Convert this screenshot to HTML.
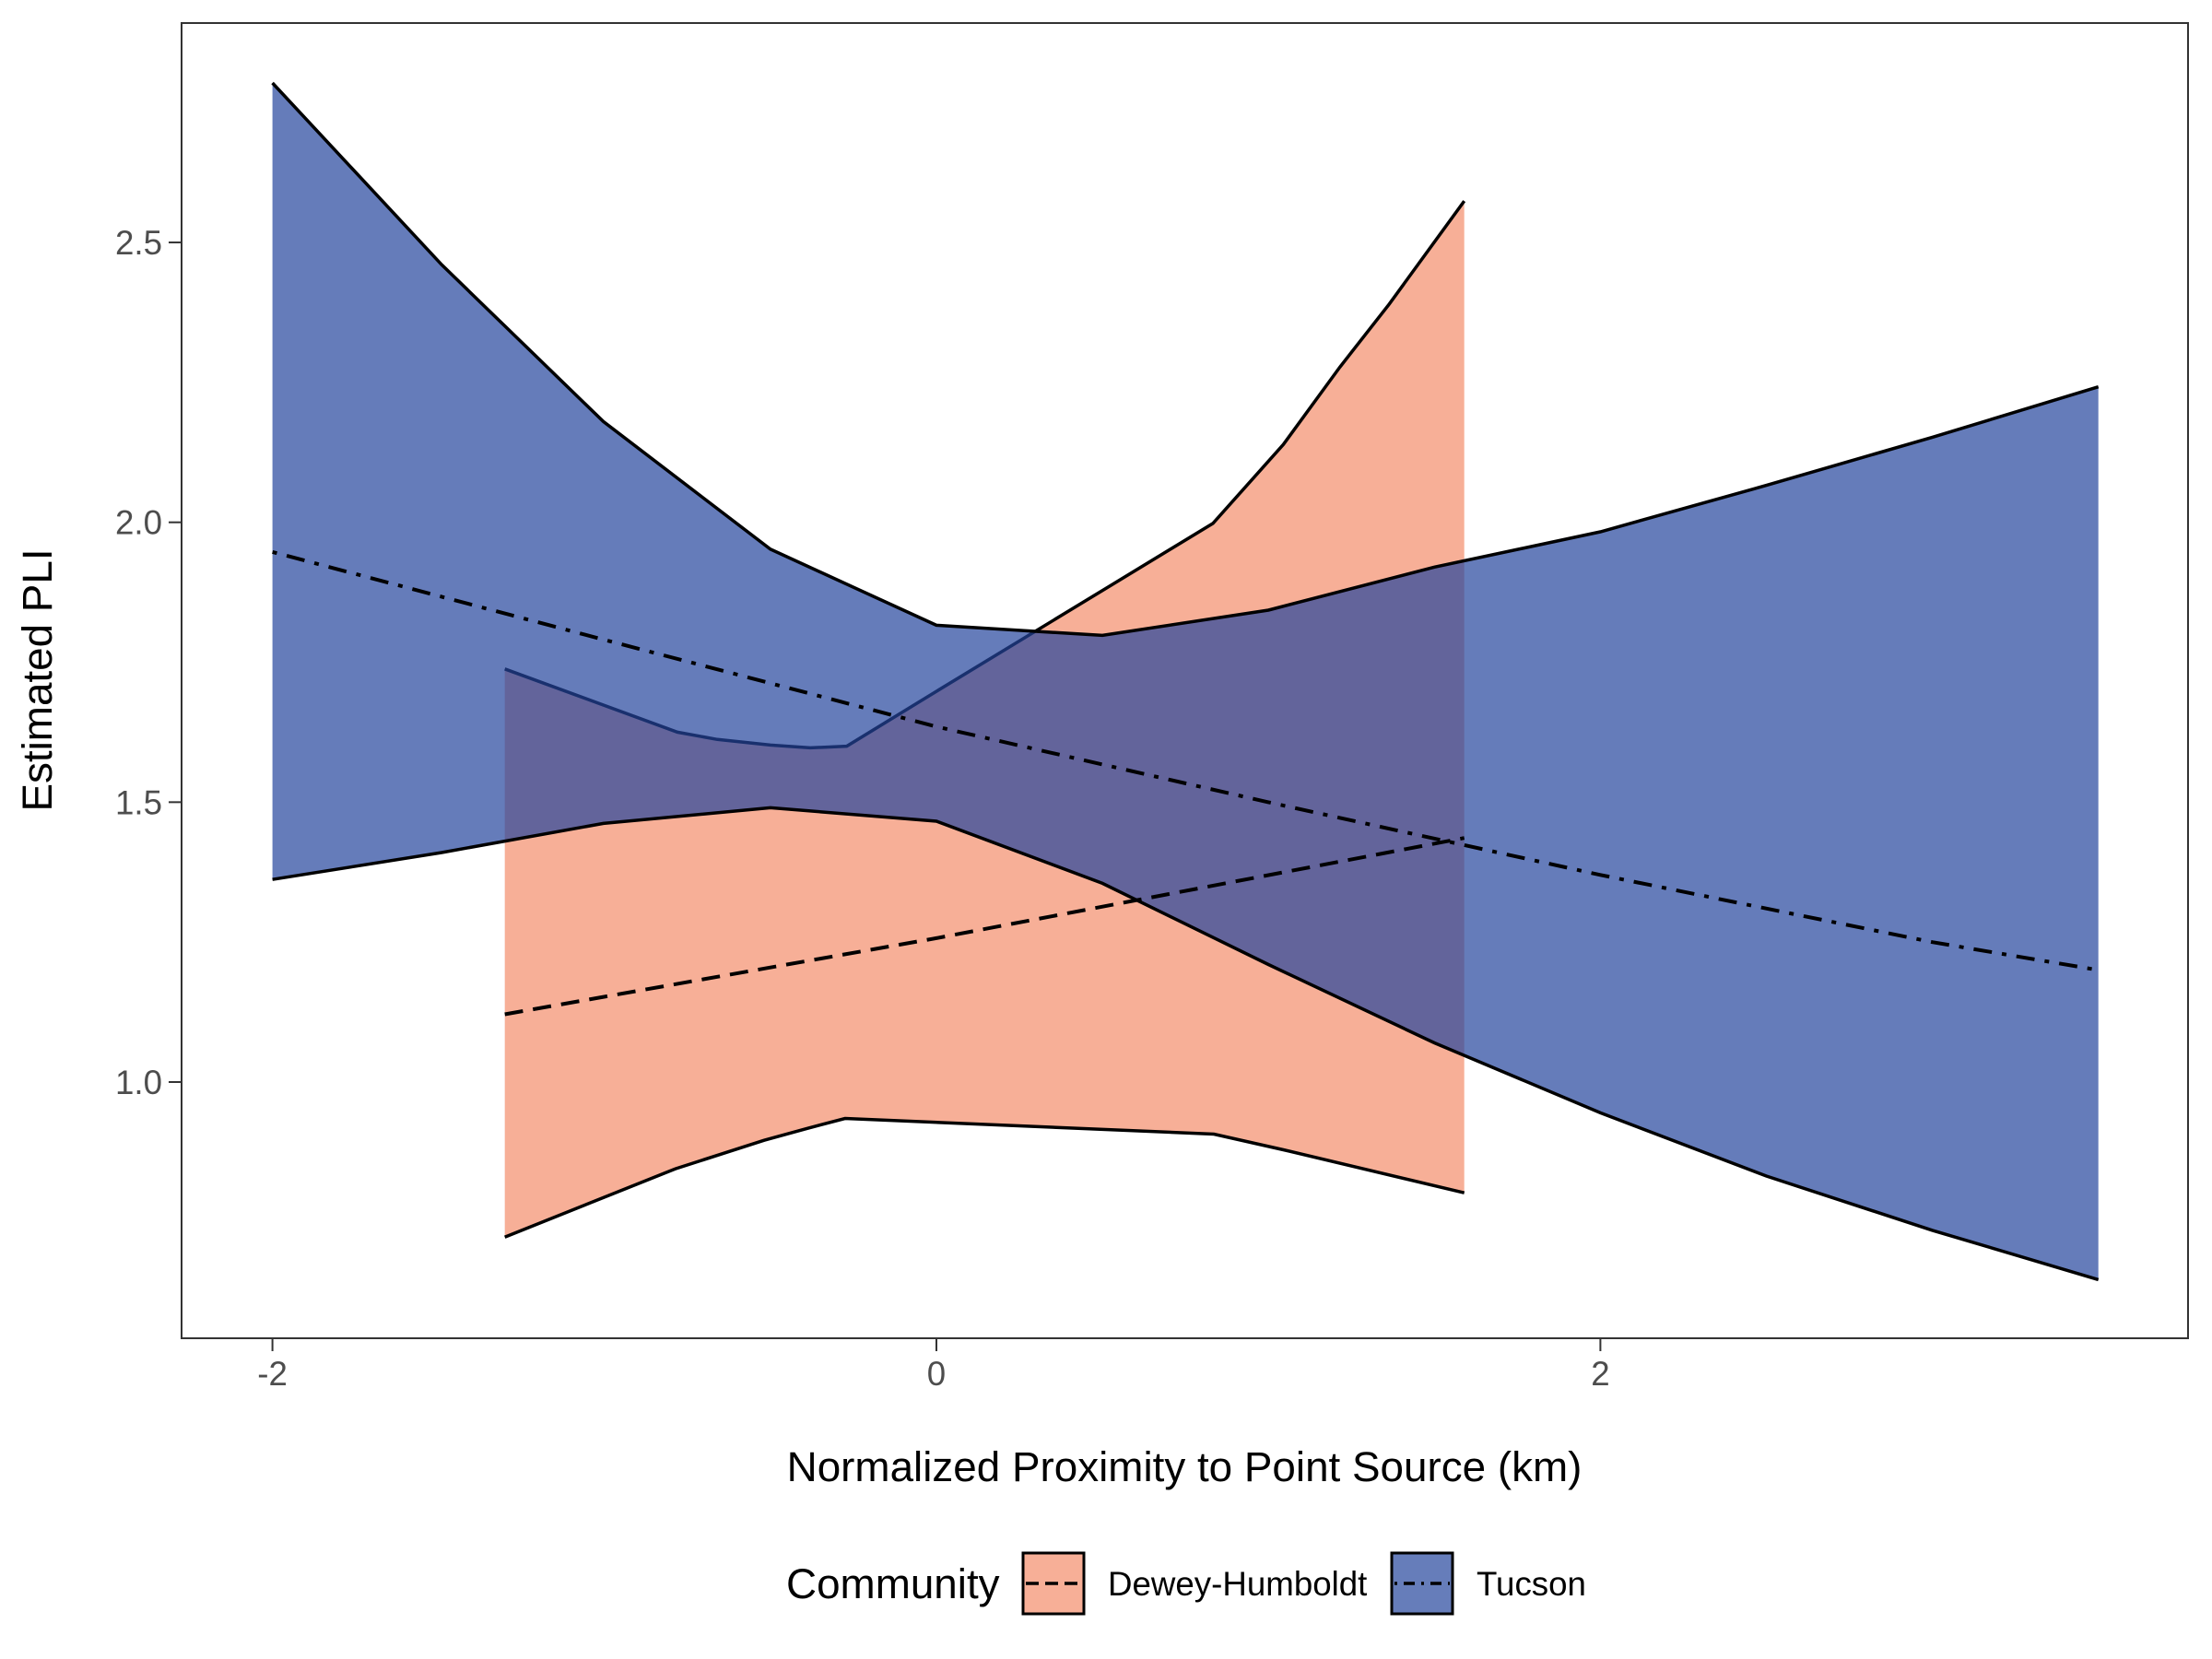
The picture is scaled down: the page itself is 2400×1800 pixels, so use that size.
<!DOCTYPE html>
<html><head><meta charset="utf-8"><style>
html,body{margin:0;padding:0;background:#fff;}
svg{display:block;font-family:"Liberation Sans",Arial,sans-serif;}
</style></head><body>
<svg id="chart" width="2400" height="1800" viewBox="0 0 2400 1800" xmlns="http://www.w3.org/2000/svg">
<rect width="2400" height="1800" fill="#fff"/>
<g id="plot"></g>
<rect x="197" y="25" width="2177" height="1427" fill="none" stroke="#333" stroke-width="2"/>
<g id="axes"></g>
<text x="1285" y="1607" font-size="45.8" text-anchor="middle" fill="#000">Normalized Proximity to Point Source (km)</text>
<text transform="translate(56,738) rotate(-90)" font-size="45.8" text-anchor="middle" fill="#000">Estimated PLI</text>
<g>
<text x="853" y="1734" font-size="45.8" fill="#000">Community</text>
<g>
<rect x="1110" y="1685" width="66" height="66" fill="#f7af97" stroke="#000" stroke-width="3"/>
<line x1="1113" y1="1718" x2="1173" y2="1718" stroke="#000" stroke-width="3.5" stroke-dasharray="14,7"/>
<text x="1202" y="1731" font-size="36.7" fill="#000">Dewey-Humboldt</text>
</g>
<g>
<rect x="1510" y="1685" width="66" height="66" fill="#667dba" stroke="#000" stroke-width="3"/>
<line x1="1513" y1="1718" x2="1573" y2="1718" stroke="#000" stroke-width="3.5" stroke-dasharray="3,7,12,7"/>
<text x="1602" y="1731" font-size="36.7" fill="#000">Tucson</text>
</g>
</g>
</svg>
<script>
const xTicks = [-2, 0, 2];
const yTicks = [1.0, 1.5, 2.0, 2.5];
const yTickLabels = ["1.0", "1.5", "2.0", "2.5"];
// Dewey-Humboldt
const deweyUpperX = [-1.30, -0.78, -0.66, -0.50, -0.38, -0.27, 0, 0.833, 1.045, 1.215, 1.364, 1.59];
const deweyUpperY = [1.738, 1.625, 1.612, 1.602, 1.597, 1.600, 1.698, 1.998, 2.139, 2.277, 2.39, 2.574];
const deweyLowerX = [-1.30, -0.786, -0.519, -0.39, -0.275, 0.836, 1.045, 1.59];
const deweyLowerY = [0.723, 0.845, 0.896, 0.917, 0.935, 0.907, 0.879, 0.802];
const deweyMeanX = [-1.30, 0, 1.59];
const deweyMeanY = [1.121, 1.257, 1.436];
// Tucson
const tucsonX = [-2, -1.49, -1.003, -0.5, 0, 0.5, 1.0, 1.5, 2.0, 2.5, 3.0, 3.5];
const tucsonUpper = [2.785, 2.46, 2.18, 1.952, 1.816, 1.798, 1.843, 1.92, 1.983, 2.066, 2.152, 2.242];
const tucsonLower = [1.362, 1.41, 1.462, 1.49, 1.466, 1.355, 1.21, 1.07, 0.945, 0.832, 0.735, 0.647];
const tucsonMeanX = [-2, -1, 0, 1, 2, 3, 3.5];
const tucsonMeanY = [1.947, 1.79, 1.635, 1.50, 1.37, 1.25, 1.20];

const NS = "http://www.w3.org/2000/svg";
function sx(v){ return 1016 + v * 360.2; }
function sy(v){ return 1174 - (v - 1) * 607.3; }
function pts(xs, ys){ return xs.map((x,i)=>sx(x).toFixed(1)+","+sy(ys[i]).toFixed(1)).join(" "); }
const plot = document.getElementById("plot");
const axes = document.getElementById("axes");
function mk(tag, attrs, parent){
  const e = document.createElementNS(NS, tag);
  for (const k in attrs) e.setAttribute(k, attrs[k]);
  parent.appendChild(e); return e;
}
const dPoly = pts(deweyUpperX, deweyUpperY) + " " + pts(deweyLowerX.slice().reverse(), deweyLowerY.slice().reverse());
const dr = mk("polygon", {points: dPoly, fill: "#f7af97"}, plot);


const du = mk("polyline", {points: pts(deweyUpperX, deweyUpperY), fill: "none", stroke: "#000", "stroke-width": 3.5}, plot);


const dl = mk("polyline", {points: pts(deweyLowerX, deweyLowerY), fill: "none", stroke: "#000", "stroke-width": 3.5}, plot);


const tPoly = pts(tucsonX, tucsonUpper) + " " + pts(tucsonX.slice().reverse(), tucsonLower.slice().reverse());
const tr = mk("polygon", {points: tPoly, fill: "#24459c", "fill-opacity": 0.7}, plot);


const tu = mk("polyline", {points: pts(tucsonX, tucsonUpper), fill: "none", stroke: "#000", "stroke-width": 3.5}, plot);


const tl = mk("polyline", {points: pts(tucsonX, tucsonLower), fill: "none", stroke: "#000", "stroke-width": 3.5}, plot);


const dm = mk("polyline", {points: pts(deweyMeanX, deweyMeanY), fill: "none", stroke: "#000", "stroke-width": 4, "stroke-dasharray": "20,11"}, plot);


const tm = mk("polyline", {points: pts(tucsonMeanX, tucsonMeanY), fill: "none", stroke: "#000", "stroke-width": 4, "stroke-dasharray": "5,11,20,11"}, plot);


xTicks.forEach(v => {
  const t = mk("line", {x1: sx(v), x2: sx(v), y1: 1452, y2: 1466, stroke: "#333", "stroke-width": 2}, axes);
  
  
  const l = mk("text", {x: sx(v), y: 1503, "font-size": 36.7, "text-anchor": "middle", fill: "#4d4d4d"}, axes);
  l.textContent = String(v);
  
  
});
yTicks.forEach((v, i) => {
  const t = mk("line", {x1: 183, x2: 197, y1: sy(v), y2: sy(v), stroke: "#333", "stroke-width": 2}, axes);
  
  
  const l = mk("text", {x: 176, y: sy(v) + 13, "font-size": 36.7, "text-anchor": "end", fill: "#4d4d4d"}, axes);
  l.textContent = yTickLabels[i];
  
  
});
</script>
</body></html>
